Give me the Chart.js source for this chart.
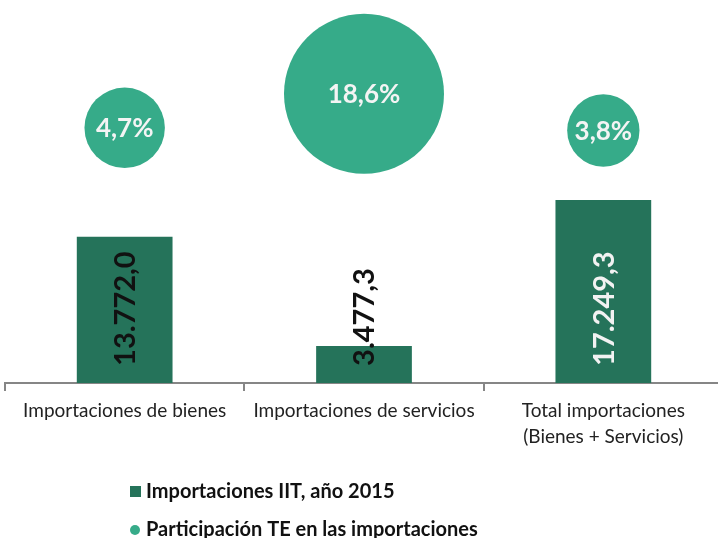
<!DOCTYPE html>
<html><head><meta charset="utf-8">
<script src="https://cdn.jsdelivr.net/npm/chart.js@4"></script>
<style>html,body{margin:0;padding:0;background:#fff;overflow:hidden}#wrap{width:723px;height:538px;position:relative}</style>
</head><body><div id="wrap"><canvas id="c"></canvas></div>
<script>
// ---- data ----
const categories = ['Importaciones de bienes', 'Importaciones de servicios', ['Total importaciones', '(Bienes + Servicios)']];
const importacionesIIT = [13772.0, 3477.3, 17249.3];
const participacionTE = [4.7, 18.6, 3.8];
const bubbleY = [66.8, 75.7, 66.1];
const seriesNames = ['Importaciones IIT, año 2015', 'Participación TE en las importaciones'];

// ---- styles ----
const BAR_COLOR = '#25735a';
const BUBBLE_COLOR = '#36ab89';
const BAR_LABEL_COLORS = ['#111111', '#111111', '#f2f2f2'];
const FONT = 'Lato';
const BUBBLE_SCALE = 80 / Math.sqrt(18.6);

function fmt(v, dec) {
  const parts = v.toFixed(dec).split('.');
  parts[0] = parts[0].replace(/\B(?=(\d{3})+(?!\d))/g, '.');
  return parts.join(',');
}

const labelPlugin = {
  id: 'customLabels',
  afterDatasetsDraw(chart) {
    const ctx = chart.ctx;
    const barMeta = chart.getDatasetMeta(1);
    barMeta.data.forEach((el, i) => {
      ctx.save();
      ctx.translate(el.x + 1, el.base - 17);
      ctx.rotate(-Math.PI / 2);
      ctx.font = 'bold 29px ' + FONT;
      ctx.fillStyle = BAR_LABEL_COLORS[i];
      ctx.textAlign = 'left';
      ctx.textBaseline = 'middle';
      ctx.fillText(fmt(chart.data.datasets[1].data[i], 1), 0, 0);
      ctx.restore();
    });
    const bubMeta = chart.getDatasetMeta(0);
    bubMeta.data.forEach((el, i) => {
      ctx.save();
      ctx.font = 'bold 26px ' + FONT;
      ctx.fillStyle = '#f4f4f4';
      ctx.textAlign = 'center';
      ctx.textBaseline = 'middle';
      ctx.fillText(fmt(participacionTE[i], 1) + '%', el.x, el.y + 1);
      ctx.restore();
    });
  },
  afterDraw(chart) {
    const ctx = chart.ctx;
    ctx.save();
    ctx.font = 'bold 20px ' + FONT;
    ctx.textAlign = 'left';
    ctx.textBaseline = 'middle';
    // bar legend item
    ctx.fillStyle = BAR_COLOR;
    ctx.fillRect(130, 486, 11, 11);
    ctx.fillStyle = '#111111';
    ctx.fillText(chart.data.datasets[1].label, 146, 492);
    // bubble legend item
    ctx.fillStyle = BUBBLE_COLOR;
    ctx.beginPath();
    ctx.arc(135, 530, 5, 0, Math.PI * 2);
    ctx.fill();
    ctx.fillStyle = '#111111';
    ctx.fillText(chart.data.datasets[0].label, 146, 530);
    ctx.restore();
  }
};

new Chart(document.getElementById('c'), {
  type: 'bar',
  data: {
    labels: categories,
    datasets: [
      {
        type: 'bubble',
        label: seriesNames[1],
        data: participacionTE.map((v, i) => ({ x: i, y: bubbleY[i], r: BUBBLE_SCALE * Math.sqrt(v) })),
        backgroundColor: BUBBLE_COLOR,
        borderWidth: 0,
        hoverBorderWidth: 0,
        yAxisID: 'y2',
        clip: false
      },
      {
        type: 'bar',
        label: seriesNames[0],
        data: importacionesIIT,
        backgroundColor: BAR_COLOR,
        borderWidth: 0,
        barPercentage: 0.4,
        categoryPercentage: 1.0,
        yAxisID: 'y'
      }
    ]
  },
  options: {
    responsive: true,
    maintainAspectRatio: false,
    animation: false,
    layout: { autoPadding: false, padding: { left: 5, right: 0, top: 1, bottom: 81 } },
    plugins: { legend: { display: false }, tooltip: { enabled: false } },
    scales: {
      x: {
        type: 'category',
        offset: true,
        grid: { offset: true, drawOnChartArea: false, drawTicks: true, tickLength: 8, color: '#868686', lineWidth: 2 },
        border: { display: true, color: '#868686', width: 2 },
        ticks: { color: '#222222', font: { family: FONT, size: 19, lineHeight: 1.37 }, padding: 7, maxRotation: 0, autoSkip: false },
        afterFit(scale) { scale.paddingLeft = 0; scale.paddingRight = 0; }
      },
      y: { display: false, min: 0, max: 36000 },
      y2: { display: false, min: 0, max: 100 }
    }
  },
  plugins: [labelPlugin]
});
</script></body></html>
